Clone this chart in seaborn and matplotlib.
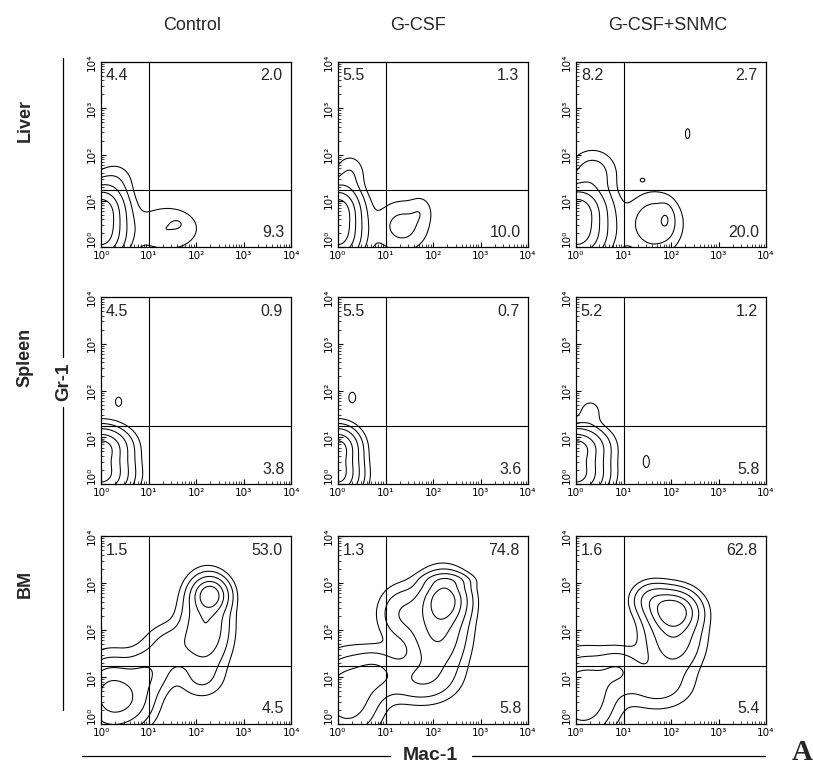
import numpy as np
import matplotlib
matplotlib.use("Agg")
import matplotlib.pyplot as plt
import seaborn as sns

sns.set_theme(style="ticks")
plt.rcParams['font.family'] = ['Liberation Sans', 'DejaVu Sans']

# ---------------- data ----------------
columns = ["Control", "G-CSF", "G-CSF+SNMC"]
rows = ["Liver", "Spleen", "BM"]
decades = [0, 1, 2, 3, 4]
tick_labels = ["10⁰", "10¹", "10²", "10³", "10⁴"]

upper_left_pct = [[4.4, 5.5, 8.2], [4.5, 5.5, 5.2], [1.5, 1.3, 1.6]]
upper_right_pct = [[2.0, 1.3, 2.7], [0.9, 0.7, 1.2], [53.0, 74.8, 62.8]]
lower_right_pct = [[9.3, 10.0, 20.0], [3.8, 3.6, 5.8], [4.5, 5.8, 5.4]]

mac1_gate = 1.0    # log10 Mac-1 quadrant marker
gr1_gate = 1.24    # log10 Gr-1 quadrant marker

# cell populations read from the contour maps:
# (log10 Mac-1 centre, log10 Gr-1 centre, spread x, spread y, relative density)
liver_control = [(0.0, 0.25, 0.32, 0.35, 0.75), (0.0, 0.85, 0.30, 0.30, 0.70),
                 (0.3, 1.45, 0.25, 0.25, 0.07),
                 (1.4, 0.40, 0.45, 0.32, 0.10), (1.6, 0.5, 0.08, 0.06, 0.04)]
liver_gcsf = [(0.0, 0.25, 0.30, 0.35, 0.75), (0.0, 0.85, 0.28, 0.30, 0.70),
              (0.25, 1.6, 0.20, 0.25, 0.09),
              (1.35, 0.45, 0.35, 0.35, 0.13), (1.75, 0.8, 0.15, 0.2, 0.05)]
liver_snmc = [(0.0, 0.25, 0.40, 0.35, 0.75), (0.0, 0.85, 0.38, 0.30, 0.70),
              (0.35, 1.6, 0.30, 0.30, 0.15),
              (1.65, 0.5, 0.35, 0.40, 0.18), (1.9, 0.6, 0.10, 0.20, 0.10),
              (2.35, 2.45, 0.05, 0.12, 0.06), (1.4, 1.45, 0.05, 0.04, 0.05)]
spleen_control = [(0.0, 0.2, 0.36, 0.30, 0.75), (0.0, 0.8, 0.34, 0.25, 0.70),
                  (0.37, 1.76, 0.08, 0.12, 0.055)]
spleen_gcsf = [(0.0, 0.2, 0.28, 0.30, 0.75), (0.0, 0.8, 0.26, 0.25, 0.70),
               (0.3, 1.85, 0.09, 0.14, 0.055)]
spleen_snmc = [(0.0, 0.2, 0.36, 0.30, 0.75), (0.0, 0.8, 0.36, 0.25, 0.70),
               (0.3, 1.55, 0.18, 0.20, 0.06), (1.48, 0.48, 0.08, 0.16, 0.055)]
bm_control = [(2.3, 2.75, 0.22, 0.22, 0.75), (2.2, 2.1, 0.30, 0.55, 0.40),
              (1.5, 1.65, 0.35, 0.30, 0.15), (1.0, 1.1, 0.30, 0.30, 0.18),
              (2.1, 0.95, 0.30, 0.25, 0.08), (0.2, 0.6, 0.35, 0.45, 0.50),
              (0.7, 0.5, 0.30, 0.35, 0.20)]
bm_gcsf = [(2.25, 2.65, 0.28, 0.30, 0.70), (2.1, 2.0, 0.35, 0.55, 0.45),
           (1.35, 2.35, 0.30, 0.35, 0.20), (2.3, 3.05, 0.30, 0.10, 0.15),
           (1.7, 0.95, 0.45, 0.30, 0.20), (0.2, 0.6, 0.40, 0.50, 0.35),
           (0.8, 1.1, 0.30, 0.30, 0.18)]
bm_snmc = [(2.05, 2.4, 0.30, 0.25, 0.80), (2.05, 1.85, 0.35, 0.45, 0.35),
           (1.6, 2.65, 0.25, 0.22, 0.25), (1.7, 0.8, 0.45, 0.30, 0.14),
           (0.15, 0.6, 0.40, 0.50, 0.38), (0.9, 1.15, 0.30, 0.28, 0.18)]
populations = [[liver_control, liver_gcsf, liver_snmc],
               [spleen_control, spleen_gcsf, spleen_snmc],
               [bm_control, bm_gcsf, bm_snmc]]
contour_levels = [0.04, 0.10, 0.22, 0.42, 0.66]

# ---------------- layout (pixels) ----------------
W, H = 813, 771
col_left = [101, 338, 576]
panel_w = 190
row_top = [62, 297, 536]
panel_h = [185, 187, 188]

fig = plt.figure(figsize=(W / 100, H / 100), dpi=100)
fig.patch.set_facecolor("white")


def fx(x):
    return x / W


def fy(y):
    return 1 - y / H


gx = np.linspace(-1.0, 4.2, 320)
gy = np.linspace(-1.0, 4.2, 320)
GX, GY = np.meshgrid(gx, gy)

minor = [d + np.log10(k) for d in range(4) for k in range(2, 10)]

for r in range(3):
    for c in range(3):
        ax = fig.add_axes([fx(col_left[c]), fy(row_top[r] + panel_h[r]),
                           panel_w / W, panel_h[r] / H])
        ax.set_facecolor("white")
        Z = np.zeros_like(GX)
        for (x0, y0, sx, sy, w) in populations[r][c]:
            Z += w * np.exp(-0.5 * (((GX - x0) / sx) ** 2 + ((GY - y0) / sy) ** 2))
        ax.contour(GX, GY, Z, levels=contour_levels, colors="black", linewidths=0.75)
        ax.axvline(mac1_gate, color="black", lw=0.8)
        ax.axhline(gr1_gate, color="black", lw=0.8)
        ax.set_xlim(0, 4)
        ax.set_ylim(0, 4)
        ax.set_xticks(decades)
        ax.set_yticks(decades)
        ax.set_xticks(minor, minor=True)
        ax.set_yticks(minor, minor=True)
        ax.set_xticklabels(tick_labels, fontsize=7.5, family="DejaVu Sans")
        ylabs = ax.set_yticklabels(tick_labels, fontsize=7.5, family="DejaVu Sans",
                                   rotation=90, va="center")
        ylabs[0].set_va("bottom")
        ax.tick_params(which="major", direction="in", length=3.5, width=0.8,
                       pad=3, colors="black")
        ax.tick_params(which="minor", direction="in", length=2, width=0.6)
        for s in ax.spines.values():
            s.set_color("black")
            s.set_linewidth(0.9)
        ax.text(0.025, 0.965, f"{upper_left_pct[r][c]:.1f}", transform=ax.transAxes,
                ha="left", va="top", fontsize=11.5)
        ax.text(0.955, 0.965, f"{upper_right_pct[r][c]:.1f}", transform=ax.transAxes,
                ha="right", va="top", fontsize=11.5)
        ax.text(0.965, 0.04, f"{lower_right_pct[r][c]:.1f}", transform=ax.transAxes,
                ha="right", va="bottom", fontsize=11.5)

# column titles
title_x = [192, 418, 668]
for c in range(3):
    fig.text(fx(title_x[c]), fy(25), columns[c], ha="center", va="center", fontsize=13)

# row labels
row_label_y = [121, 357, 584]
for r in range(3):
    fig.text(fx(25), fy(row_label_y[r]), rows[r], ha="center", va="center",
             rotation=90, fontsize=13, fontweight="bold")

# axis titles with their rules
fig.text(fx(64), fy(382), "Gr-1", ha="center", va="center", rotation=90,
         fontsize=13.5, fontweight="bold")
fig.add_artist(plt.Line2D([fx(63), fx(63)], [fy(58), fy(357)], color="black", lw=0.9))
fig.add_artist(plt.Line2D([fx(63), fx(63)], [fy(407), fy(710)], color="black", lw=0.9))

fig.text(fx(430), fy(755), "Mac-1", ha="center", va="center",
         fontsize=14, fontweight="bold")
fig.add_artist(plt.Line2D([fx(82), fx(390)], [fy(756), fy(756)], color="black", lw=0.9))
fig.add_artist(plt.Line2D([fx(472), fx(765)], [fy(756), fy(756)], color="black", lw=0.9))

fig.text(fx(802), fy(752), "A", ha="center", va="center", fontsize=21,
         fontweight="bold", family=["Liberation Serif", "DejaVu Serif"])

fig.savefig("out.png", dpi=100, facecolor="white")
